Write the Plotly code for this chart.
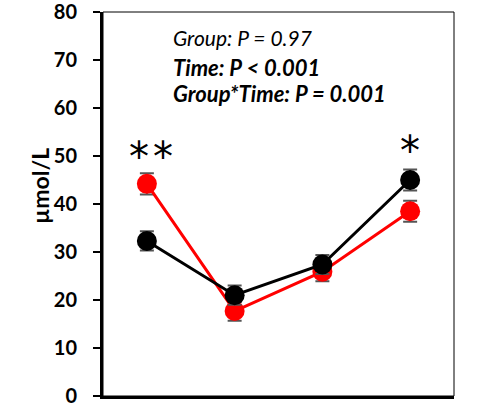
import plotly.graph_objects as go

categories = ["T1", "T2", "T3", "T4"]
red_values = [44.2, 17.7, 25.9, 38.5]
red_err = [2.2, 2.0, 2.0, 2.2]
black_values = [32.3, 21.0, 27.4, 45.0]
black_err = [2.0, 2.0, 2.0, 2.2]
y_ticks = [0, 10, 20, 30, 40, 50, 60, 70, 80]
stats_lines = ["<i>Group: P = 0.97</i>", "<b><i>Time: P < 0.001</i></b>", "<b><i>Group*Time: P = 0.001</i></b>"]
stats_y = [74.6, 68.5, 63.1]
sig_marks = [(-0.09, 49.7), (0.18, 49.7), (3.0, 51.0)]

FONT = "Lato"
xs = list(range(len(categories)))

fig = go.Figure()
fig.add_trace(go.Scatter(
    x=xs, y=red_values, mode="lines+markers",
    line=dict(color="#ff0000", width=3),
    marker=dict(color="#ff0000", size=20),
    error_y=dict(type="data", array=red_err, color="#555555", thickness=2, width=7),
    showlegend=False))
fig.add_trace(go.Scatter(
    x=xs, y=black_values, mode="lines+markers",
    line=dict(color="#000000", width=3),
    marker=dict(color="#000000", size=20),
    error_y=dict(type="data", array=black_err, color="#555555", thickness=2, width=7),
    showlegend=False))

for i, t in enumerate(stats_lines):
    fig.add_annotation(x=0.28, y=stats_y[i], xref="x", yref="y", text=t,
                       showarrow=False, xanchor="left", yanchor="middle",
                       font=dict(family=FONT, size=21 if i == 0 else 22, color="#000"))

for xv, yv in sig_marks:
    fig.add_annotation(x=xv, y=yv, xref="x", yref="y", text="*", showarrow=False,
                       xanchor="center", yanchor="middle",
                       font=dict(family="DejaVu Sans", size=40, color="#000"))

fig.add_annotation(x=-0.1795, y=0.547, xref="paper", yref="paper", text="<b>µmol/L</b>",
                   textangle=-90, showarrow=False, xanchor="center", yanchor="middle",
                   font=dict(family=FONT, size=23, color="#000"))

# thin top/right frame
fig.add_shape(type="rect", xref="paper", yref="paper", x0=0, y0=0, x1=1, y1=1,
              line=dict(color="#000", width=1), layer="below")

fig.update_layout(
    width=480, height=412,
    margin=dict(l=103, r=26, t=12, b=16),
    paper_bgcolor="white", plot_bgcolor="white",
    font=dict(family=FONT, color="#000"),
)
fig.update_xaxes(range=[-0.5, 3.5], showgrid=False, zeroline=False,
                 showticklabels=False, ticks="", automargin=False,
                 showline=True, linecolor="#000", linewidth=3)
fig.update_yaxes(range=[0, 80], tickvals=y_ticks, showgrid=False, zeroline=False,
                 ticks="outside", ticklen=7, tickwidth=2, tickcolor="#000",
                 ticklabelstandoff=12, automargin=False, ticklabeloverflow="allow",
                 tickfont=dict(family=FONT, size=20, color="#000", weight="bold"),
                 showline=True, linecolor="#000", linewidth=3)

fig.write_html("out.html")
